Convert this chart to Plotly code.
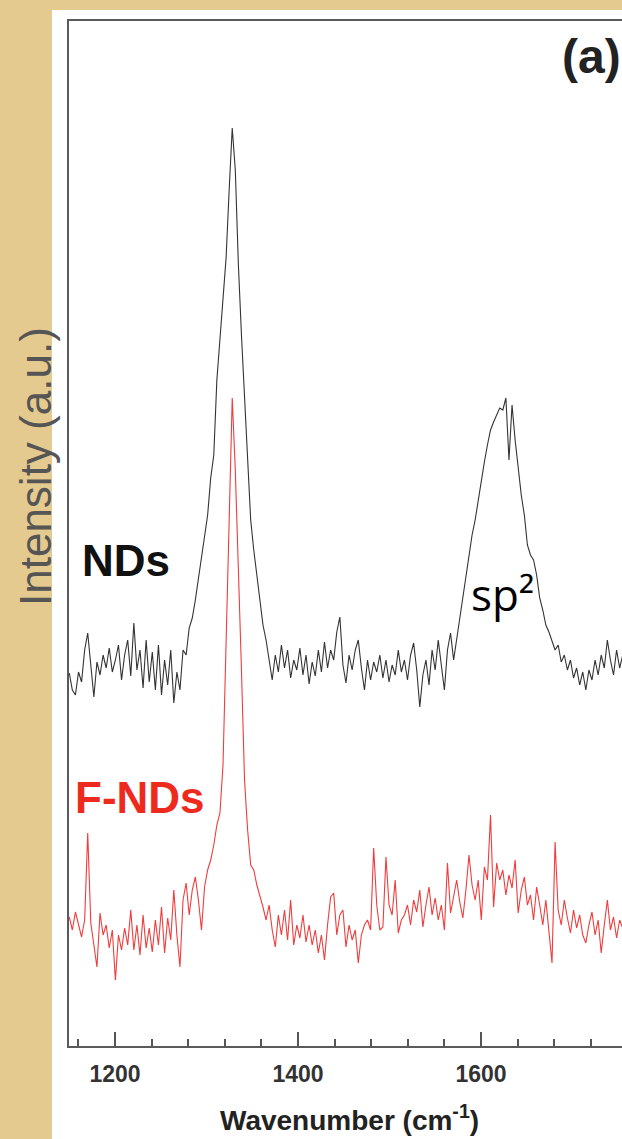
import plotly.graph_objects as go

# Raman spectra (wavenumber in cm^-1, intensity in a.u.), 181 samples from 1150 cm^-1, 3.36 cm^-1 apart
wn_start, wn_step, n_pts = 1150.0, 3.36, 181
wavenumber = [round(wn_start + wn_step * i, 2) for i in range(n_pts)]

nds_intensity = [
    373, 356, 351, 374, 364, 396, 413, 378, 349, 384, 371, 391, 378, 398, 374, 386, 401, 366, 391, 406,
    370, 423, 376, 396, 358, 406, 364, 394, 356, 401, 351, 386, 361, 396, 343, 374, 356, 396, 391, 418,
    428, 446, 466, 486, 506, 531, 568, 591, 666, 706, 746, 788, 856, 918, 876, 781, 711, 646, 586, 526,
    496, 468, 446, 421, 406, 386, 366, 391, 374, 401, 378, 396, 368, 386, 376, 398, 371, 391, 362, 384,
    370, 396, 374, 404, 378, 396, 386, 414, 429, 381, 363, 391, 376, 396, 406, 378, 356, 386, 366, 384,
    374, 391, 368, 386, 364, 381, 371, 396, 374, 386, 366, 391, 403, 376, 339, 371, 386, 361, 396, 376,
    406, 381, 356, 396, 413, 386, 406, 426, 446, 466, 486, 511, 526, 546, 568, 584, 601, 616, 624, 631,
    638, 636, 648, 586, 641, 606, 576, 551, 531, 501, 491, 486, 471, 448, 436, 421, 414, 406, 396, 401,
    384, 391, 376, 386, 368, 378, 361, 374, 356, 376, 366, 386, 371, 391, 378, 406, 386, 371, 396, 378,
    391,
]

fnds_intensity = [
    129, 116, 134, 121, 109, 126, 213, 123, 101, 79, 133, 111, 121, 98, 116, 66, 111, 96, 118, 101,
    136, 96, 121, 91, 131, 98, 118, 94, 126, 101, 139, 93, 128, 106, 156, 111, 79, 146, 163, 131,
    156, 169, 146, 116, 159, 176, 186, 201, 221, 233, 281, 406, 546, 648, 576, 486, 376, 266, 216, 181,
    176, 161, 151, 139, 126, 141, 116, 99, 131, 111, 136, 106, 146, 101, 121, 108, 131, 104, 121, 101,
    116, 93, 111, 86, 121, 149, 153, 111, 131, 136, 99, 121, 106, 116, 83, 111, 121, 126, 116, 198,
    141, 116, 119, 189, 141, 131, 166, 113, 126, 131, 141, 121, 146, 134, 156, 119, 141, 159, 131, 148,
    126, 141, 116, 183, 133, 151, 166, 144, 128, 156, 191, 161, 146, 166, 126, 179, 166, 231, 139, 183,
    166, 176, 151, 171, 158, 186, 133, 156, 169, 141, 151, 126, 159, 141, 121, 146, 116, 83, 204, 136,
    121, 146, 128, 113, 136, 118, 131, 111, 103, 121, 134, 111, 126, 93, 121, 146, 116, 129, 108, 126,
    118,
]

x_major_ticks = [1200, 1400, 1600]
x_range = [1149.7, 1754]
y_range = [0, 1025]

SANS = "Liberation Sans, Arial, Helvetica, sans-serif"

fig = go.Figure()
fig.add_trace(go.Scatter(x=wavenumber, y=nds_intensity, mode="lines",
                         line=dict(color="#333333", width=1.1), name="NDs", showlegend=False))
fig.add_trace(go.Scatter(x=wavenumber, y=fnds_intensity, mode="lines",
                         line=dict(color="#f03c3c", width=1.1), name="F-NDs", showlegend=False))

W, H = 622, 1139
L, R, T, B = 69, 0, 21, 93
pw, ph = W - L - R, H - T - B


def px(x):
    return (x - L) / pw


def py(y):
    return (H - B - y) / ph


beige = "#e4ca8f"
shapes = [
    dict(type="rect", xref="paper", yref="paper", x0=px(0), x1=px(52), y0=py(H), y1=py(0),
         fillcolor=beige, line=dict(width=0), layer="below"),
    dict(type="rect", xref="paper", yref="paper", x0=px(0), x1=px(W), y0=py(10), y1=py(0),
         fillcolor=beige, line=dict(width=0), layer="below"),
]

annotations = [
    dict(text="(a)", x=px(591), y=py(56), xref="paper", yref="paper", showarrow=False,
         font=dict(family=SANS, size=48, color="#222222", weight="bold"),
         xanchor="center", yanchor="middle"),
    dict(text="NDs", x=px(126), y=py(560), xref="paper", yref="paper", showarrow=False,
         font=dict(family=SANS, size=44, color="#111111", weight="bold"),
         xanchor="center", yanchor="middle"),
    dict(text="F-NDs", x=px(140), y=py(797), xref="paper", yref="paper", showarrow=False,
         font=dict(family=SANS, size=44, color="#ee2a1e", weight="bold"),
         xanchor="center", yanchor="middle"),
    dict(text="sp²", x=px(502), y=py(594), xref="paper", yref="paper", showarrow=False,
         font=dict(family="Open Sans, Noto Sans, sans-serif", size=44, color="#000000"),
         xanchor="center", yanchor="middle"),
    dict(text="Intensity (a.u.)", x=px(35), y=py(467), xref="paper", yref="paper", showarrow=False,
         textangle=-90, font=dict(family=SANS, size=44, color="#555555"),
         xanchor="center", yanchor="middle"),
    dict(text="Wavenumber (cm<sup>-1</sup>)", x=px(349), y=py(1118), xref="paper", yref="paper",
         showarrow=False, font=dict(family=SANS, size=28, color="#222222", weight="bold"),
         xanchor="center", yanchor="middle"),
]

fig.update_layout(
    width=W, height=H,
    margin=dict(l=L, r=R, t=T, b=B, pad=0),
    paper_bgcolor="#ffffff",
    plot_bgcolor="#ffffff",
    shapes=shapes,
    annotations=annotations,
    xaxis=dict(
        range=x_range, tickvals=x_major_ticks, ticks="inside", ticklen=14, tickwidth=2,
        tickcolor="#555555", showline=True, linecolor="#5a5a5a", linewidth=2, mirror=True,
        showgrid=False, zeroline=False, ticklabelstandoff=6,
        tickfont=dict(family=SANS, size=23, color="#333333", weight="bold"),
        minor=dict(dtick=40, tick0=1160, ticks="inside", ticklen=7, tickwidth=2, tickcolor="#555555",
                   showgrid=False),
    ),
    yaxis=dict(
        range=y_range, showticklabels=False, ticks="", showline=True, linecolor="#5a5a5a",
        linewidth=2, showgrid=False, zeroline=False,
    ),
)

fig.write_html("out.html", config={"displayModeBar": False},
               post_script="document.body.style.margin='0';")
